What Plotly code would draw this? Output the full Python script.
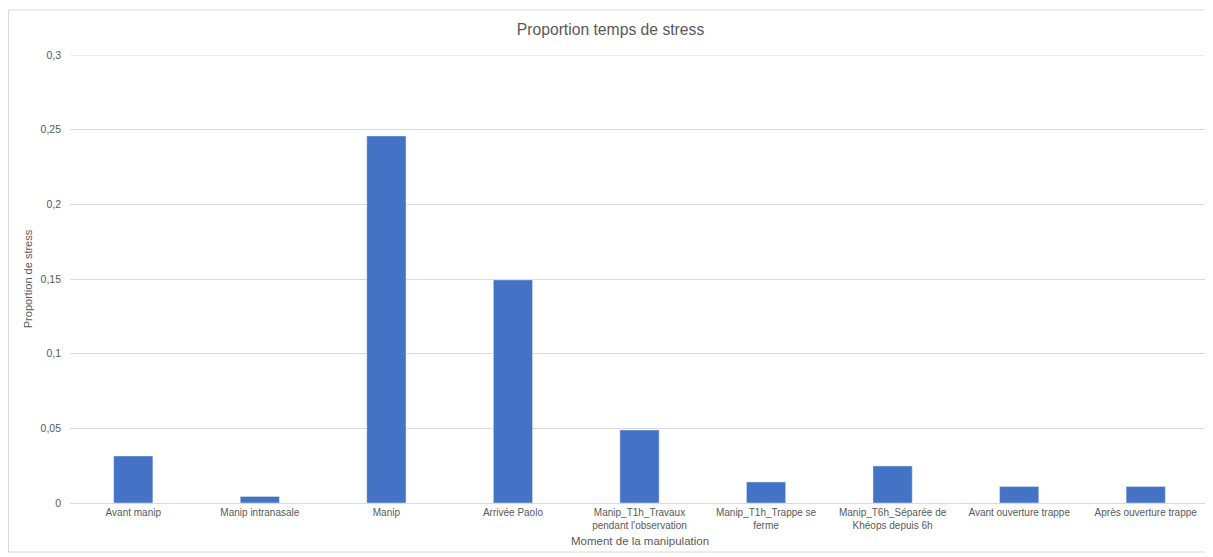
import plotly.graph_objects as go

# data
categories = [
    "Avant manip",
    "Manip intranasale",
    "Manip",
    "Arrivée Paolo",
    "Manip_T1h_Travaux pendant l'observation",
    "Manip_T1h_Trappe se ferme",
    "Manip_T6h_Séparée de Khéops depuis 6h",
    "Avant ouverture trappe",
    "Après ouverture trappe",
]
tick_labels = [
    "Avant manip",
    "Manip intranasale",
    "Manip",
    "Arrivée Paolo",
    "Manip_T1h_Travaux<br>pendant l'observation",
    "Manip_T1h_Trappe se<br>ferme",
    "Manip_T6h_Séparée de<br>Khéops depuis 6h",
    "Avant ouverture trappe",
    "Après ouverture trappe",
]
stress = [0.0315, 0.0044, 0.2458, 0.1494, 0.0489, 0.0141, 0.0248, 0.011, 0.011]
y_ticks = [0, 0.05, 0.1, 0.15, 0.2, 0.25, 0.3]

# page body has an 8px margin, so the figure is a bit smaller than the window
W, H = 1205, 549
M = dict(l=62, r=4, t=47, b=54)
GREY = "#595959"
GRID = "#d9d9d9"

fig = go.Figure(
    go.Bar(x=categories, y=stress, marker=dict(color="#4472C4"), width=0.31)
)

pw = W - M["l"] - M["r"]
ph = H - M["t"] - M["b"]
# outer chart frame
fig.add_shape(
    type="rect", xref="paper", yref="paper",
    x0=(0.5 - M["l"]) / pw, x1=(1204 - M["l"]) / pw,
    y0=(H - 544 - M["b"]) / ph, y1=(H - 2 - M["b"]) / ph,
    line=dict(color=GRID, width=1), layer="below",
)
# plotly drops the gridline sitting on the top edge, draw it back
fig.add_shape(
    type="line", xref="paper", yref="y", x0=0, x1=1,
    y0=y_ticks[-1], y1=y_ticks[-1], line=dict(color=GRID, width=1),
    layer="below",
)
# x axis title placed by hand, closer to the two-line tick labels
fig.add_annotation(
    text="Moment de la manipulation", xref="paper", yref="paper",
    x=0.5, y=0, yanchor="middle", yshift=-38, showarrow=False,
    font=dict(size=11.5, color=GREY),
)

fig.update_layout(
    width=W, height=H, margin=M,
    paper_bgcolor="white", plot_bgcolor="white",
    separators=", ",
    font=dict(family="Liberation Sans, Arial", size=10, color=GREY),
    title=dict(
        text="Proportion temps de stress", x=0.5, xanchor="center",
        y=1 - 22 / H, yanchor="middle", yref="container",
        font=dict(size=15.7, color=GREY),
    ),
    showlegend=False, bargap=0.69,
)
fig.update_xaxes(
    tickmode="array", tickvals=categories, ticktext=tick_labels,
    tickangle=0, showline=True, linecolor=GRID, linewidth=1,
    ticks="",
)
fig.update_yaxes(
    range=[0, 0.3], tickvals=y_ticks,
    showgrid=True, gridcolor=GRID,
    zeroline=False, ticks="", ticklabelstandoff=8,
    tickfont=dict(size=10.5),
    title=dict(text="Proportion de stress", standoff=5,
               font=dict(size=11, color=GREY)),
)

fig.write_html("out.html")
